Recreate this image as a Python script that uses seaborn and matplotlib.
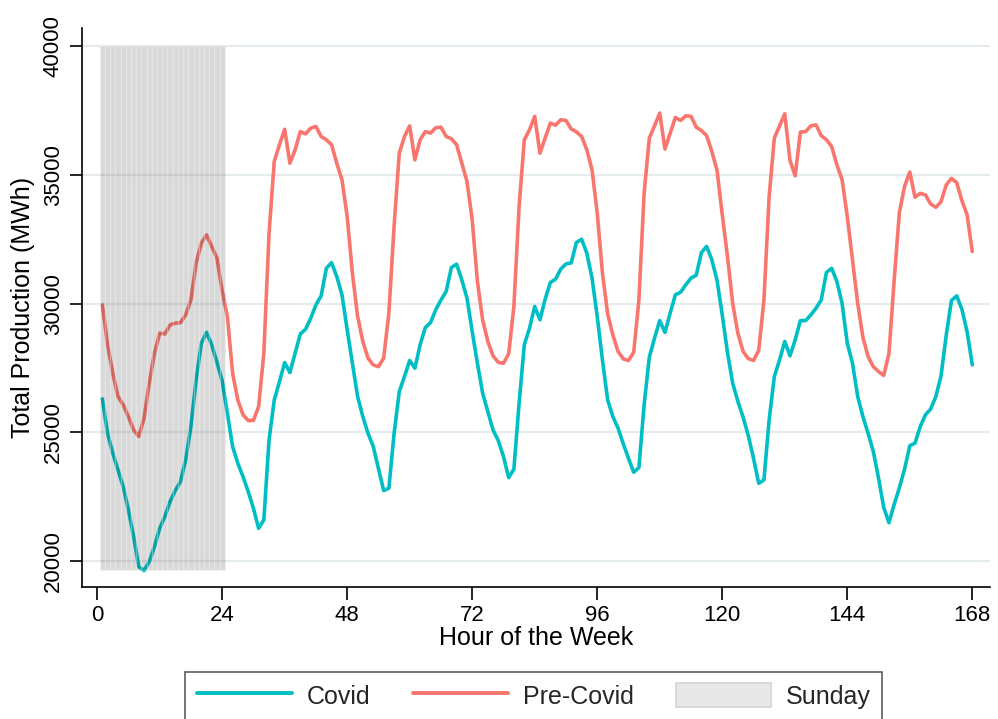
import numpy as np
import pandas as pd
import matplotlib
matplotlib.use("Agg")
import matplotlib.pyplot as plt
import seaborn as sns
from matplotlib.lines import Line2D
from matplotlib.patches import Patch

# Hourly total production over one week (hour 1 = Sunday 00:00)
hours = list(range(1, 169))

covid = [
    26300, 24960, 24190, 23540, 22890, 21990, 20950, 19780, 19630, 19980,
    20560, 21270, 21730, 22310, 22740, 23090, 23930, 25220, 27040, 28460,
    28880, 28400, 27720, 27000, 25740, 24450, 23800, 23280, 22700, 22050,
    21270, 21600, 24700, 26260, 26970, 27710, 27320, 28070, 28820, 29000,
    29430, 29950, 30300, 31370, 31590, 31050, 30340, 28980, 27680, 26390,
    25610, 24960, 24450, 23600, 22740, 22830, 24950, 26580, 27170, 27790,
    27490, 28400, 29070, 29260, 29760, 30140, 30470, 31400, 31530, 30920,
    30210, 28910, 27680, 26520, 25810, 25090, 24680, 24060, 23240, 23570,
    26130, 28400, 29040, 29890, 29370, 30170, 30820, 30950, 31340, 31540,
    31580, 32370, 32500, 31960, 30990, 29500, 27810, 26260, 25610, 25160,
    24550, 23990, 23450, 23630, 26070, 27920, 28660, 29340, 28880, 29630,
    30340, 30440, 30730, 30990, 31100, 31980, 32220, 31700, 30900, 29560,
    28100, 26910, 26200, 25590, 24870, 23990, 23020, 23150, 25480, 27170,
    27810, 28530, 27970, 28590, 29340, 29340, 29560, 29820, 30140, 31210,
    31370, 30860, 30010, 28460, 27680, 26390, 25610, 24960, 24250, 23220,
    22080, 21490, 22200, 22850, 23570, 24480, 24580, 25220, 25680, 25900,
    26390, 27190, 28780, 30120, 30300, 29780, 28910, 27620,
]

pre_covid = [
    29950, 28400, 27300, 26390, 26070, 25610, 25090, 24840, 25550, 26910,
    28070, 28850, 28820, 29170, 29240, 29260, 29560, 30140, 31570, 32350,
    32670, 32220, 31760, 30500, 29500, 27300, 26260, 25680, 25460, 25460,
    26000, 28070, 32730, 35520, 36170, 36770, 35450, 35970, 36680, 36590,
    36810, 36880, 36490, 36360, 36170, 35450, 34810, 33380, 31180, 29500,
    28530, 27880, 27620, 27550, 27880, 29630, 33000, 35850, 36490, 36900,
    35580, 36360, 36680, 36620, 36830, 36850, 36490, 36400, 36170, 35450,
    34740, 33250, 30860, 29370, 28530, 27970, 27720, 27680, 28050, 29890,
    33770, 36360, 36750, 37270, 35840, 36430, 37010, 36930, 37140, 37110,
    36780, 36670, 36490, 35970, 35200, 33510, 31180, 29600, 28780, 28140,
    27850, 27790, 28110, 30140, 34290, 36430, 36900, 37400, 36000, 36620,
    37230, 37110, 37290, 37270, 36850, 36720, 36520, 35910, 35170, 33450,
    31830, 30010, 28850, 28140, 27860, 27790, 28180, 30140, 34160, 36430,
    36900, 37370, 35560, 34960, 36660, 36680, 36900, 36940, 36520, 36360,
    36100, 35390, 34810, 33380, 31700, 30010, 28690, 27940, 27550, 27360,
    27210, 28060, 30900, 33540, 34550, 35110, 34130, 34280, 34220, 33870,
    33740, 33960, 34610, 34860, 34700, 34000, 33450, 32020,
]

# Sunday indicator bars span from the weekly minimum up to the top gridline
sunday_hours = list(range(1, 25))
sunday_top = 40000
sunday_base = 19650

x_ticks = [0, 24, 48, 72, 96, 120, 144, 168]
y_ticks = [20000, 25000, 30000, 35000, 40000]

series_names = ["Covid", "Pre-Covid"]
series_colors = {"Covid": "#00BFC4", "Pre-Covid": "#F8766D"}

df = pd.DataFrame({
    "hour": hours * 2,
    "production": covid + pre_covid,
    "series": ["Covid"] * len(hours) + ["Pre-Covid"] * len(hours),
})

sns.set_theme(style="white")
plt.rcParams["font.family"] = ["Liberation Sans", "DejaVu Sans"]

fig = plt.figure(figsize=(9.98, 7.19), dpi=100)
ax = fig.add_axes([0.0822, 0.1836, 0.9098, 0.7774])

sns.lineplot(data=df, x="hour", y="production", hue="series",
             hue_order=series_names, palette=series_colors,
             linewidth=2.6, ax=ax, legend=False, zorder=2)

# Translucent Sunday shading drawn over the lines
ax.bar(sunday_hours, [sunday_top - sunday_base] * len(sunday_hours),
       bottom=sunday_base, width=1.0,
       color=(0.0, 0.0, 0.0, 0.15),
       edgecolor=(1.0, 1.0, 1.0, 0.22), linewidth=1.0, zorder=3)

ax.set_xlim(-2.9, 171.4)
ax.set_ylim(18994, 40700)
ax.set_xticks(x_ticks)
ax.set_yticks(y_ticks)
ax.set_yticklabels([str(v) for v in y_ticks], rotation=90, va="center")

ax.yaxis.grid(True, color="#e5ecef", linewidth=1.6, zorder=1)
ax.xaxis.grid(False)
ax.set_axisbelow(True)

for side in ["top", "right"]:
    ax.spines[side].set_visible(False)
for side in ["left", "bottom"]:
    ax.spines[side].set_color("black")
    ax.spines[side].set_linewidth(1.2)

ax.tick_params(axis="both", which="major", direction="out", length=9,
               width=1.2, color="black", labelsize=16, labelcolor="black",
               left=True, bottom=True, pad=4)

ax.set_xlabel("Hour of the Week", fontsize=18, color="black", labelpad=0)
ax.set_ylabel("Total Production (MWh)", fontsize=18, color="black", labelpad=6)

handles = [
    Line2D([], [], color=series_colors["Covid"], linewidth=2.8),
    Line2D([], [], color=series_colors["Pre-Covid"], linewidth=2.8),
    Patch(facecolor="#e8e8e8", edgecolor="#d4d4d4", linewidth=1.2),
]
leg = fig.legend(handles, ["Covid", "Pre-Covid", "Sunday"], ncol=3,
                 loc="upper center", bbox_to_anchor=(0.535, 0.0654),
                 frameon=True, fancybox=False, edgecolor="#333333",
                 fontsize=18, handlelength=3.8, handleheight=1.1,
                 handletextpad=0.6, columnspacing=1.7, borderpad=0.45,
                 borderaxespad=0)
leg.get_frame().set_linewidth(1.2)

fig.savefig("out.png", dpi=100)
